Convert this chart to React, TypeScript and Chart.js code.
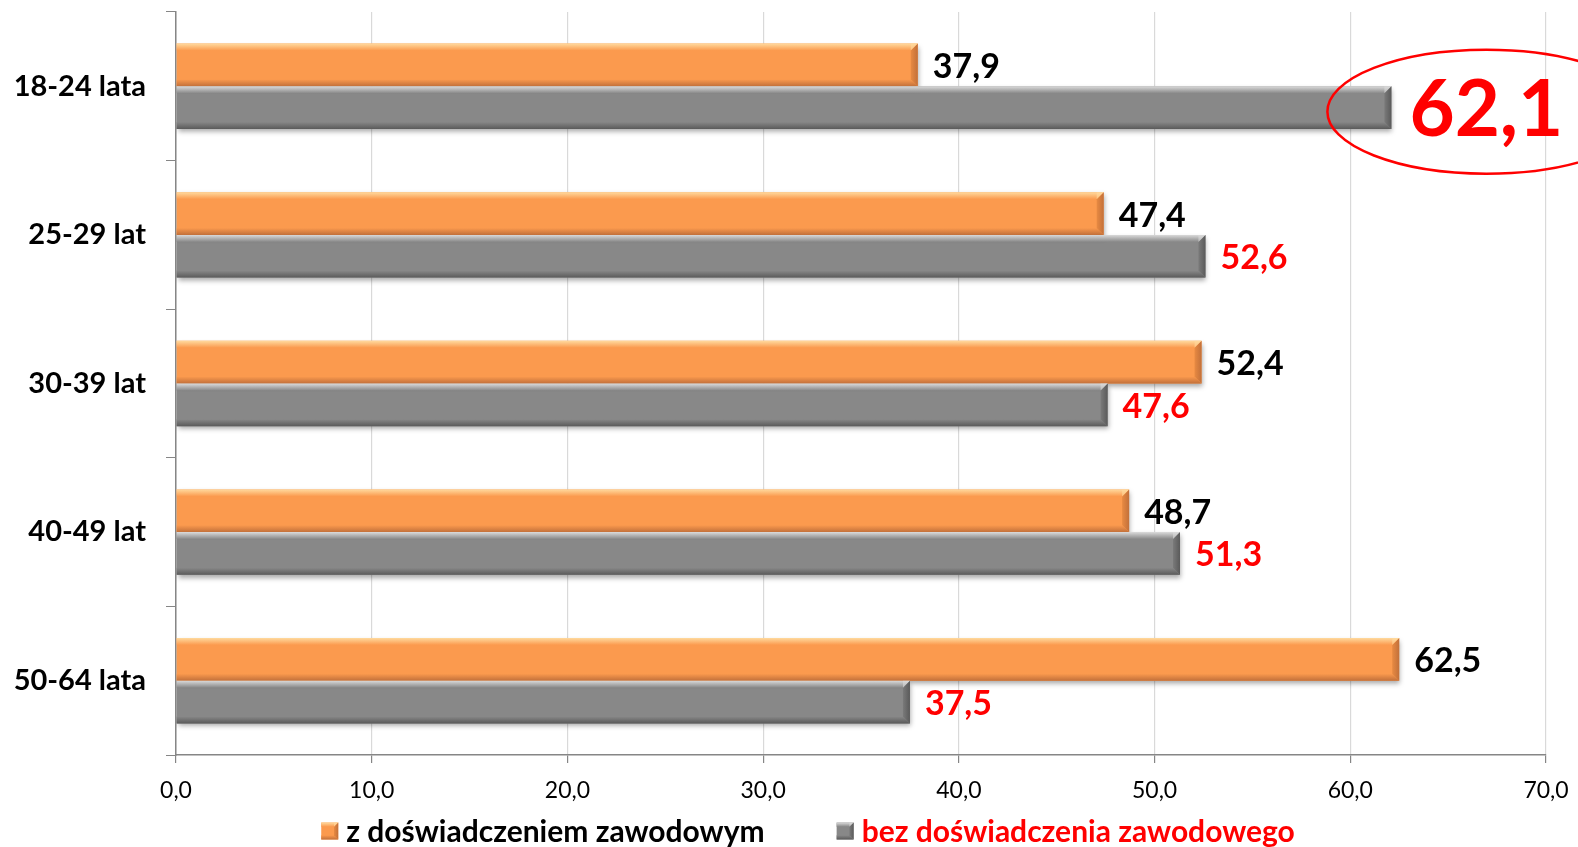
import { useEffect, useRef } from 'react';
import { Chart, registerables } from 'chart.js';

Chart.register(...registerables);

const categories = ['18-24 lata', '25-29 lat', '30-39 lat', '40-49 lat', '50-64 lata'];
const withExperience = [37.9, 47.4, 52.4, 48.7, 62.5];
const withoutExperience = [62.1, 52.6, 47.6, 51.3, 37.5];
const seriesNames = ['z doświadczeniem zawodowym', 'bez doświadczenia zawodowego'];
const axisMin = 0;
const axisMax = 70;
const axisStep = 10;
const highlightedIndex = 0;

const fmt = (v: number) => v.toFixed(1).replace('.', ',');

const ORANGE = { base: '#FB9A4E', light: '#FFDA9E', dark: '#C2703A', side: '#E88A42' };
const GRAY = { base: '#888888', light: '#DADADA', dark: '#5A5A5A', side: '#7A7A7A' };
const palettes = [ORANGE, GRAY];

function drawBevel(ctx: CanvasRenderingContext2D, left: number, right: number, top: number, bottom: number, p: any) {
  const b = Math.min(7, (bottom - top) / 4);
  let g = ctx.createLinearGradient(0, top, 0, top + b);
  g.addColorStop(0, p.light);
  g.addColorStop(1, p.base);
  ctx.fillStyle = g;
  ctx.beginPath();
  ctx.moveTo(left, top);
  ctx.lineTo(right, top);
  ctx.lineTo(right - b, top + b);
  ctx.lineTo(left, top + b);
  ctx.closePath();
  ctx.fill();
  g = ctx.createLinearGradient(0, bottom - b, 0, bottom);
  g.addColorStop(0, p.base);
  g.addColorStop(1, p.dark);
  ctx.fillStyle = g;
  ctx.beginPath();
  ctx.moveTo(left, bottom);
  ctx.lineTo(right, bottom);
  ctx.lineTo(right - b, bottom - b);
  ctx.lineTo(left, bottom - b);
  ctx.closePath();
  ctx.fill();
  g = ctx.createLinearGradient(right - b, 0, right, 0);
  g.addColorStop(0, p.side);
  g.addColorStop(1, p.dark);
  ctx.fillStyle = g;
  ctx.beginPath();
  ctx.moveTo(right, top);
  ctx.lineTo(right, bottom);
  ctx.lineTo(right - b, bottom - b);
  ctx.lineTo(right - b, top + b);
  ctx.closePath();
  ctx.fill();
  ctx.fillStyle = p.light;
  ctx.globalAlpha = 0.6;
  ctx.beginPath();
  ctx.moveTo(right, top);
  ctx.lineTo(right - b, top + b);
  ctx.lineTo(right - b, top);
  ctx.closePath();
  ctx.fill();
  ctx.globalAlpha = 1;
}

const barDecor = {
  id: 'barDecor',
  beforeDatasetDraw(chart: any) {
    const ctx = chart.ctx;
    ctx.save();
    ctx.shadowColor = 'rgba(0,0,0,0.35)';
    ctx.shadowBlur = 5;
    ctx.shadowOffsetX = 1;
    ctx.shadowOffsetY = 3;
  },
  afterDatasetDraw(chart: any) {
    chart.ctx.restore();
  },
  afterDatasetsDraw(chart: any) {
    const ctx = chart.ctx as CanvasRenderingContext2D;
    ctx.save();
    chart.data.datasets.forEach((ds: any, di: number) => {
      const meta = chart.getDatasetMeta(di);
      meta.data.forEach((el: any, i: number) => {
        const { x, y, base, height } = el.getProps(['x', 'y', 'base', 'height'], true);
        const top = y - height / 2;
        const bottom = y + height / 2;
        drawBevel(ctx, base, x, top, bottom, palettes[di]);
        const v = ds.data[i] as number;
        const txt = fmt(v);
        const big = di === 1 && i === highlightedIndex;
        ctx.font = big ? 'bold 78px Lato, "Noto Sans", sans-serif' : 'bold 34px Lato, "Noto Sans", sans-serif';
        ctx.fillStyle = di === 0 ? '#000000' : '#FF0000';
        ctx.textAlign = 'left';
        ctx.textBaseline = 'middle';
        const tx = x + (big ? 18 : 15);
        const ty = y + (big ? 3 : 2);
        ctx.fillText(txt, tx, ty);
        if (big) {
          const w = ctx.measureText(txt).width;
          ctx.strokeStyle = '#FF0000';
          ctx.lineWidth = 2.5;
          ctx.beginPath();
          ctx.ellipse(tx + w / 2, ty + 1, w / 2 + 82, 62, 0, 0, Math.PI * 2);
          ctx.stroke();
        }
      });
    });
    ctx.restore();
  },
  afterDraw(chart: any) {
    const ctx = chart.ctx as CanvasRenderingContext2D;
    ctx.save();
    ctx.font = 'bold 30px Lato, "Noto Sans", sans-serif';
    ctx.textBaseline = 'middle';
    ctx.textAlign = 'left';
    const box = 17;
    const gapBoxText = 8;
    const gapItems = 72;
    const widths = seriesNames.map((n) => ctx.measureText(n).width);
    const total = widths.reduce((a, w) => a + box + gapBoxText + w, 0) + gapItems;
    let x = 808 - total / 2;
    const cy = 831;
    seriesNames.forEach((name, i) => {
      const p = palettes[i];
      ctx.fillStyle = p.base;
      ctx.fillRect(x, cy - box / 2, box, box);
      drawBevel(ctx, x, x + box, cy - box / 2, cy + box / 2, p);
      ctx.fillStyle = i === 0 ? '#000000' : '#FF0000';
      ctx.fillText(name, x + box + gapBoxText, cy + 1);
      x += box + gapBoxText + widths[i] + gapItems;
    });
    ctx.restore();
  },
};

export default function App() {
  const ref = useRef<HTMLCanvasElement | null>(null);
  useEffect(() => {
    if (!ref.current) return;
    const chart = new Chart(ref.current, {
      type: 'bar',
      data: {
        labels: categories,
        datasets: [
          {
            label: seriesNames[0],
            data: withExperience,
            backgroundColor: ORANGE.base,
            borderWidth: 0,
            categoryPercentage: 0.575,
            barPercentage: 1,
          },
          {
            label: seriesNames[1],
            data: withoutExperience,
            backgroundColor: GRAY.base,
            borderWidth: 0,
            categoryPercentage: 0.575,
            barPercentage: 1,
          },
        ],
      },
      options: {
        indexAxis: 'y',
        responsive: false,
        animation: false,
        layout: { padding: { top: 12, right: 32, left: 0, bottom: 0 } },
        plugins: {
          legend: { display: false },
          tooltip: { enabled: false },
        },
        scales: {
          x: {
            min: axisMin,
            max: axisMax,
            ticks: {
              stepSize: axisStep,
              callback: (v: any) => fmt(Number(v)),
              color: '#000000',
              font: { family: 'Lato, "Noto Sans", sans-serif', size: 23 },
              padding: 14,
              maxRotation: 0,
            },
            grid: { color: '#D9D9D9', tickColor: '#868686', tickLength: 8, lineWidth: 1.2 },
            border: { color: '#868686', width: 1.5 },
            afterFit: (s: any) => {
              s.height = 92;
              s.paddingLeft = 0;
              s.paddingRight = 0;
            },
          },
          y: {
            ticks: {
              color: '#000000',
              font: { family: 'Lato, "Noto Sans", sans-serif', size: 29, weight: 'bold' },
              padding: 20,
            },
            grid: { drawOnChartArea: false, tickColor: '#868686', tickLength: 10, offset: true },
            border: { color: '#868686', width: 1.5 },
            afterFit: (s: any) => {
              s.width = 176;
              s.paddingTop = 0;
              s.paddingBottom = 0;
            },
          },
        },
      },
      plugins: [barDecor],
    });
    return () => chart.destroy();
  }, []);
  return (
    <div style={{ position: 'absolute', left: 0, top: 0, width: 1578, height: 847, background: '#fff' }}>
      <canvas ref={ref} width={1578} height={847} />
    </div>
  );
}
